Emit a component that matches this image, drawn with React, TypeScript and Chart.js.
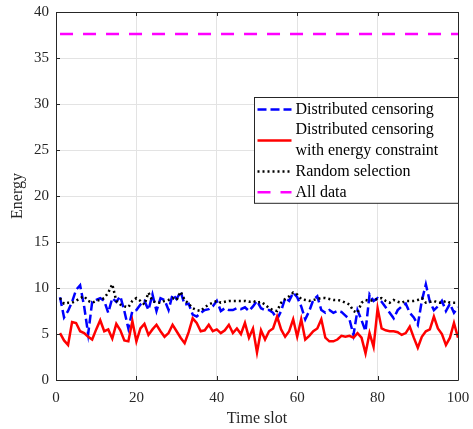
import React, { useEffect, useRef } from "react";
import { Chart, registerables } from "chart.js";

Chart.register(...registerables);

const slots: number[] = Array.from({ length: 100 }, (_, i) => i + 1);

const distributed: number[] = [
  9.0, 6.8, 7.5, 8.5, 9.8, 10.3, 8.0, 5.0, 8.5, 8.7,
  8.9, 8.6, 7.3, 8.9, 8.5, 9.1, 7.5, 5.6, 7.5, 7.6,
  8.2, 8.6, 7.6, 9.3, 7.5, 8.9, 8.7, 7.6, 9.3, 8.8,
  9.6, 8.2, 8.3, 7.1, 6.9, 7.3, 7.6, 7.7, 8.0, 8.6,
  7.5, 7.8, 7.6, 7.6, 7.8, 7.7, 7.9, 7.5, 8.0, 8.6,
  7.8, 7.6, 7.6, 7.3, 6.6, 7.5, 8.9, 8.6, 9.5, 9.0,
  8.0, 6.6, 7.5, 8.7, 9.1, 7.6, 7.3, 7.6, 7.3, 7.5,
  7.4, 7.0, 6.6, 4.9, 7.6, 6.5, 5.3, 9.3, 8.6, 8.9,
  8.5, 7.9, 7.3, 6.7, 7.6, 8.0, 8.3, 7.3, 6.8, 6.0,
  8.6, 10.4, 8.5, 7.6, 8.0, 8.6, 7.5, 8.3, 7.3, 7.9,
];

const constrained: number[] = [
  5.1, 4.3, 3.8, 6.3, 6.2, 5.3, 5.1, 4.7, 4.4, 5.5,
  6.5, 5.3, 5.5, 4.5, 6.1, 5.4, 4.3, 4.2, 6.4, 4.2,
  5.6, 6.1, 4.9, 5.5, 6.0, 5.3, 4.7, 5.1, 6.0, 5.3,
  4.6, 4.0, 5.2, 6.7, 6.2, 5.3, 5.4, 6.0, 5.3, 5.5,
  5.1, 5.4, 6.0, 5.1, 5.6, 5.0, 6.2, 4.6, 5.6, 3.0,
  5.4, 4.4, 5.3, 5.6, 6.9, 5.5, 4.7, 5.3, 6.6, 4.7,
  6.6, 4.4, 4.8, 5.3, 5.6, 6.6, 4.6, 4.2, 4.2, 4.4,
  4.8, 4.7, 4.8, 4.6, 5.1, 4.6, 2.9, 5.1, 3.6, 7.8,
  5.6, 5.4, 5.3, 5.3, 5.2, 4.9, 5.1, 5.8, 4.6, 3.5,
  4.7, 5.3, 5.5, 6.9, 5.6, 5.0, 3.8, 4.6, 6.2, 4.6,
];

const randomSel: number[] = [
  8.9, 8.3, 8.4, 8.4, 8.6, 8.9, 9.1, 8.6, 8.4, 8.6,
  8.7, 8.9, 9.5, 10.4, 8.6, 8.2, 8.0, 7.9, 8.6, 8.9,
  8.6, 8.2, 9.5, 8.6, 8.4, 8.4, 8.6, 8.7, 8.9, 8.7,
  9.6, 8.7, 8.3, 7.8, 7.6, 7.5, 7.9, 8.2, 8.4, 8.6,
  8.4, 8.5, 8.6, 8.6, 8.6, 8.6, 8.6, 8.5, 8.6, 8.4,
  8.5, 8.2, 7.8, 7.6, 7.5, 8.4, 8.8, 9.1, 9.5, 9.3,
  8.8, 8.7, 8.6, 8.7, 8.8, 8.9, 8.9, 8.8, 8.7, 8.7,
  8.6, 8.4, 8.2, 7.5, 7.3, 8.4, 8.7, 8.6, 8.7, 8.8,
  8.9, 8.6, 8.4, 8.7, 8.5, 8.4, 8.6, 8.6, 8.6, 8.7,
  8.9, 8.4, 8.5, 8.6, 8.4, 8.4, 8.6, 8.4, 8.4, 8.4,
];

const allDataX: number[] = [1, 100];
const allDataY: number[] = [37.6, 37.6];

const legendLabels: string[][] = [
  ["Distributed censoring"],
  ["Distributed censoring", "with energy constraint"],
  ["Random selection"],
  ["All data"],
];

const xTicks: number[] = [0, 20, 40, 60, 80, 100];
const yTicks: number[] = [0, 5, 10, 15, 20, 25, 30, 35, 40];

const FONT = "'Liberation Serif', 'Times New Roman', serif";
const AXIS_COLOR = "#262626";

const toPts = (xs: number[], ys: number[]) => xs.map((x, i) => ({ x, y: ys[i] }));

const boxPlugin = {
  id: "boxTicks",
  afterDatasetsDraw(chart: any) {
    const { ctx, chartArea } = chart;
    const { left, right, top, bottom } = chartArea;
    const xs = chart.scales.x;
    const ys = chart.scales.y;
    ctx.save();
    ctx.strokeStyle = AXIS_COLOR;
    ctx.lineWidth = 1;
    ctx.beginPath();
    ctx.rect(Math.round(left) + 0.5, Math.round(top) + 0.5, Math.round(right - left), Math.round(bottom - top));
    ctx.stroke();
    const tl = 4;
    ctx.beginPath();
    xTicks.forEach((v) => {
      const px = Math.round(xs.getPixelForValue(v)) + 0.5;
      ctx.moveTo(px, bottom);
      ctx.lineTo(px, bottom - tl);
      ctx.moveTo(px, top);
      ctx.lineTo(px, top + tl);
    });
    yTicks.forEach((v) => {
      const py = Math.round(ys.getPixelForValue(v)) + 0.5;
      ctx.moveTo(left, py);
      ctx.lineTo(left + tl, py);
      ctx.moveTo(right, py);
      ctx.lineTo(right - tl, py);
    });
    ctx.stroke();
    ctx.restore();
  },
};

const legendPlugin = {
  id: "customLegend",
  afterDraw(chart: any) {
    const { ctx, chartArea } = chart;
    const x1 = Math.round(chartArea.right) + 0.5;
    const x0 = x1 - 204;
    const y0 = Math.round(chartArea.top) + 85.5;
    const lineH = 20.7;
    const totalLines = legendLabels.reduce((s, l) => s + l.length, 0);
    const y1 = y0 + 12 + lineH * (totalLines - 1) + 11;
    ctx.save();
    ctx.fillStyle = "#ffffff";
    ctx.fillRect(x0, y0, x1 - x0, y1 - y0);
    ctx.strokeStyle = AXIS_COLOR;
    ctx.lineWidth = 1;
    ctx.strokeRect(x0, y0, x1 - x0, y1 - y0);
    ctx.font = `16px ${FONT}`;
    ctx.textBaseline = "middle";
    ctx.textAlign = "left";
    let cy = y0 + 12;
    legendLabels.forEach((lines, i) => {
      const ds = chart.data.datasets[i];
      const sampleY = cy + (lineH * (lines.length - 1)) / 2;
      ctx.beginPath();
      ctx.strokeStyle = ds.borderColor;
      ctx.lineWidth = ds.borderWidth;
      ctx.setLineDash(ds.borderDash || []);
      ctx.moveTo(x0 + 3, sampleY);
      ctx.lineTo(x0 + 37, sampleY);
      ctx.stroke();
      ctx.setLineDash([]);
      ctx.fillStyle = "#000000";
      lines.forEach((t, j) => {
        ctx.fillText(t, x0 + 41, cy + j * lineH);
      });
      cy += lineH * lines.length;
    });
    ctx.restore();
  },
};

const bgPlugin = {
  id: "bgWhite",
  beforeDraw(chart: any) {
    const { ctx, width, height } = chart;
    ctx.save();
    ctx.fillStyle = "#ffffff";
    ctx.fillRect(0, 0, width, height);
    ctx.restore();
  },
};

export default function App() {
  const ref = useRef<HTMLCanvasElement | null>(null);
  useEffect(() => {
    document.body.style.margin = "0";
    if (!ref.current) return;
    const chart = new Chart(ref.current, {
      type: "line",
      data: {
        datasets: [
          {
            label: "Distributed censoring",
            data: toPts(slots, distributed),
            borderColor: "#0000ff",
            borderWidth: 2.5,
            borderDash: [9, 4],
            pointRadius: 0,
            tension: 0,
            order: 3,
          },
          {
            label: "Distributed censoring with energy constraint",
            data: toPts(slots, constrained),
            borderColor: "#ff0000",
            borderWidth: 2.5,
            borderDash: [],
            pointRadius: 0,
            tension: 0,
            order: 2,
          },
          {
            label: "Random selection",
            data: toPts(slots, randomSel),
            borderColor: "#000000",
            borderWidth: 2.5,
            borderDash: [2, 3],
            pointRadius: 0,
            tension: 0,
            order: 1,
          },
          {
            label: "All data",
            data: toPts(allDataX, allDataY),
            borderColor: "#ff00ff",
            borderWidth: 2.5,
            borderDash: [13, 10],
            pointRadius: 0,
            tension: 0,
            order: 0,
          },
        ] as any,
      },
      options: {
        responsive: false,
        animation: false,
        events: [],
        layout: { padding: { left: 0, right: 15, top: 12, bottom: 0 } },
        plugins: {
          legend: { display: false },
          tooltip: { enabled: false },
          title: { display: false },
        },
        scales: {
          x: {
            type: "linear",
            min: 0,
            max: 100,
            afterFit: (s: any) => {
              s.height = 49;
              s.paddingLeft = 0;
              s.paddingRight = 0;
            },
            afterBuildTicks: (s: any) => {
              s.ticks = xTicks.map((v) => ({ value: v }));
            },
            ticks: {
              color: AXIS_COLOR,
              font: { family: FONT, size: 15 },
              padding: 9,
              maxRotation: 0,
            },
            grid: { color: "#e3e3e3", drawTicks: false, lineWidth: 1 },
            border: { display: false },
            title: {
              display: true,
              text: "Time slot",
              color: AXIS_COLOR,
              font: { family: FONT, size: 16 },
              padding: { top: 0, bottom: 1 },
            },
          },
          y: {
            type: "linear",
            min: 0,
            max: 40,
            afterFit: (s: any) => {
              s.width = 56;
              s.paddingTop = 0;
              s.paddingBottom = 0;
            },
            afterBuildTicks: (s: any) => {
              s.ticks = yTicks.map((v) => ({ value: v }));
            },
            ticks: {
              color: AXIS_COLOR,
              font: { family: FONT, size: 15 },
              padding: 7,
            },
            grid: { color: "#e3e3e3", drawTicks: false, lineWidth: 1 },
            border: { display: false },
            title: {
              display: true,
              text: "Energy",
              color: AXIS_COLOR,
              font: { family: FONT, size: 16 },
              padding: { top: 8, bottom: 0 },
            },
          },
        },
      },
      plugins: [bgPlugin, boxPlugin, legendPlugin],
    });
    return () => chart.destroy();
  }, []);
  return (
    <div style={{ position: "fixed", left: 0, top: 0, width: 473, height: 429 }}>
      <canvas ref={ref} width={473} height={429} />
    </div>
  );
}
